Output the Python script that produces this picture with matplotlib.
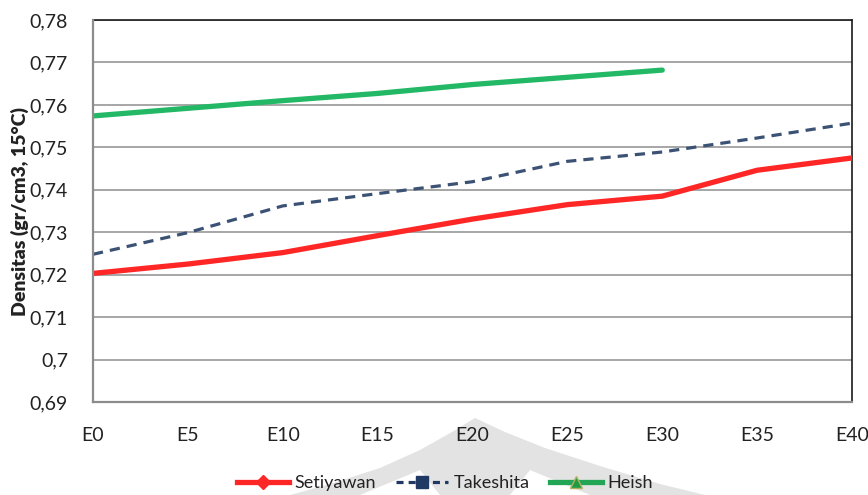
import matplotlib
matplotlib.use("Agg")
import matplotlib.pyplot as plt
from matplotlib.lines import Line2D
from matplotlib.patches import Polygon
import numpy as np

plt.rcParams['font.family'] = ['Lato', 'DejaVu Sans']

categories = ["E0", "E5", "E10", "E15", "E20", "E25", "E30", "E35", "E40"]
setiyawan = [0.7203, 0.7225, 0.7252, 0.7292, 0.7331, 0.7365, 0.7385, 0.7446, 0.7475]
takeshita = [0.7248, 0.7299, 0.7362, 0.7391, 0.7419, 0.7467, 0.7489, 0.7522, 0.7557]
heish = [0.7574, 0.7592, 0.7610, 0.7627, 0.7648, 0.7665, 0.7682]
y_ticks = [0.69, 0.70, 0.71, 0.72, 0.73, 0.74, 0.75, 0.76, 0.77, 0.78]
y_tick_labels = ["0,69", "0,7", "0,71", "0,72", "0,73", "0,74", "0,75", "0,76", "0,77", "0,78"]

red = "#ff2626"
navy = "#3b5275"
green = "#23b865"

fig = plt.figure(figsize=(8.68, 4.95), dpi=100)

# faint emblem in the page background
W, H = 868, 495
emblem = [(475, 418), (452, 432), (420, 450), (380, 468), (330, 484), (290, 495),
          (705, 495), (660, 484), (600, 466), (545, 448), (505, 432)]
fig.patches.append(Polygon([(x / W, 1 - y / H) for x, y in emblem], closed=True,
                           transform=fig.transFigure, facecolor="#e3e3e3",
                           edgecolor="none", zorder=-2))
for cut in ([(360, 495), (420, 470), (440, 495)], [(590, 495), (530, 470), (510, 495)]):
    fig.patches.append(Polygon([(x / W, 1 - y / H) for x, y in cut], closed=True,
                               transform=fig.transFigure, facecolor="white",
                               edgecolor="none", zorder=-1))

ax = fig.add_axes([93 / W, 1 - 402 / H, (852 - 93) / W, (402 - 20) / H])
ax.set_facecolor("none")
ax.set_zorder(1)

x = np.arange(len(categories))
ax.plot(x, setiyawan, color=red, lw=3.8, solid_capstyle="round", zorder=3)
ax.plot(x, takeshita, color=navy, lw=2.3, dashes=(3.2, 2.2), zorder=3)
ax.plot(x[:len(heish)], heish, color=green, lw=3.8, solid_capstyle="round", zorder=3)

ax.set_xlim(0, len(categories) - 1)
ax.set_ylim(0.69, 0.78)
ax.set_yticks(y_ticks)
ax.set_yticklabels(y_tick_labels)
ax.set_xticks(x)
ax.set_xticklabels(categories)
ax.tick_params(axis="both", length=0, labelsize=14, colors="#222222")
ax.tick_params(axis="y", pad=18)
ax.tick_params(axis="x", pad=18)
ax.grid(axis="y", color="#a6a6a6", lw=1.4)
ax.set_axisbelow(True)

for side in ("top", "right"):
    ax.spines[side].set_color("#1a1a1a")
    ax.spines[side].set_linewidth(1.2)
for side in ("left", "bottom"):
    ax.spines[side].set_color("#8c8c8c")
    ax.spines[side].set_linewidth(1.6)
    ax.spines[side].set_zorder(4)

ax.set_ylabel("Densitas (gr/cm3, 15°C)", fontsize=14, fontweight="heavy",
              color="#222222")
ax.yaxis.set_label_coords((29 - 93) / (852 - 93), 0.5)

handles = [
    Line2D([], [], color=red, lw=3.8, marker="D", markersize=7,
           markerfacecolor=red, markeredgecolor=red),
    Line2D([], [], color="#1f3864", lw=2.3, dashes=(2.2, 1.6), marker="s",
           markersize=9, markerfacecolor="#1f3864", markeredgecolor="#1f3864"),
    Line2D([], [], color="#22a555", lw=3.8, marker="^", markersize=9,
           markerfacecolor="#1f9d45", markeredgecolor="#b5b060"),
]
leg = fig.legend(handles, ["Setiyawan", "Takeshita", "Heish"], loc="center",
                 bbox_to_anchor=(445 / W, 1 - 483 / H), ncol=3, frameon=False,
                 fontsize=13, handlelength=2.9, columnspacing=1.1, handletextpad=0.3,
                 labelcolor="#222222")
leg.set_zorder(2)

fig.savefig("out.png", dpi=100)
